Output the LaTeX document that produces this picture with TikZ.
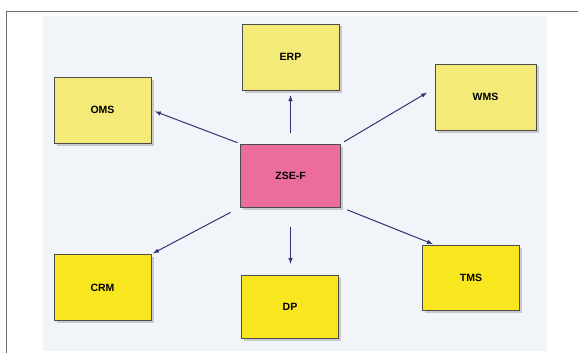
\documentclass[tikz,border=0pt]{standalone}
\usepackage{fontspec}
\setsansfont{Liberation Sans}
\usetikzlibrary{calc}
\usetikzlibrary{positioning}
\usetikzlibrary{shadows}

\definecolor{panelbg}{RGB}{241,245,250}
\definecolor{paleyellow}{RGB}{243,234,120}
\definecolor{brightyellow}{RGB}{248,230,30}
\definecolor{hubpink}{RGB}{236,108,158}
\definecolor{linkblue}{RGB}{52,52,112}

\begin{document}
\begin{tikzpicture}[x=1pt, y=-1pt,
        sysbox/.style={draw=gray!60!black, line width=0.5pt,
            minimum width=97pt, minimum height=66pt,
            font=\sffamily\bfseries\fontsize{10.5}{13}\selectfont,
            drop shadow={shadow xshift=2.5pt, shadow yshift=-2.5pt, fill=gray!75}},
        pale/.style={sysbox, fill=paleyellow},
        bright/.style={sysbox, fill=brightyellow},
        link/.style={->, >=latex, line width=1pt, draw=linkblue}]

        \useasboundingbox (0,0) rectangle (578,353);
        \fill[white] (0,0) rectangle (578,353);

        % Frame and panel
        \fill[panelbg] (43,16) rectangle (547,351);
        \draw[gray!85!black, line width=1.8pt] (6.5,353) -- (6.5,11.5) -- (578,11.5);

        % Hub in the middle
        \node[sysbox, fill=hubpink, minimum width=100pt, minimum height=63pt] (zse) at (290.5,175.5) {ZSE-F};

        % Upper systems
        \node[pale] (oms) at (102.5,110) {OMS};
        \node[pale] (erp) at (290.5,57) {ERP};
        \node[pale, minimum width=101pt] (wms) at (485.5,97) {WMS};

        % Lower systems
        \node[bright] (crm) at (102.5,287.5) {CRM};
        \node[bright, minimum height=63pt] (dp) at (290,306.5) {DP};
        \node[bright, minimum height=65pt] (tms) at (471,277.5) {TMS};

        % Links out of the hub
        \draw[link, shorten <=11pt, shorten >=5pt] (zse.north) -- (erp.south);
        \draw[link, shorten <=3pt, shorten >=4pt] (zse.north west) -- (oms.east);
        \draw[link, shorten <=4pt, shorten >=9pt] (zse.north east) -- (wms.170);
        \draw[link, shorten <=11pt, shorten >=2pt] (zse.south west) -- (crm.north east);
        \draw[link, shorten <=20pt, shorten >=11pt] (zse.south) -- (zse.south |- dp.north);
        \draw[link, shorten <=7pt, shorten >=2pt] (zse.south east) -- (tms.138);

\end{tikzpicture}
\end{document}
